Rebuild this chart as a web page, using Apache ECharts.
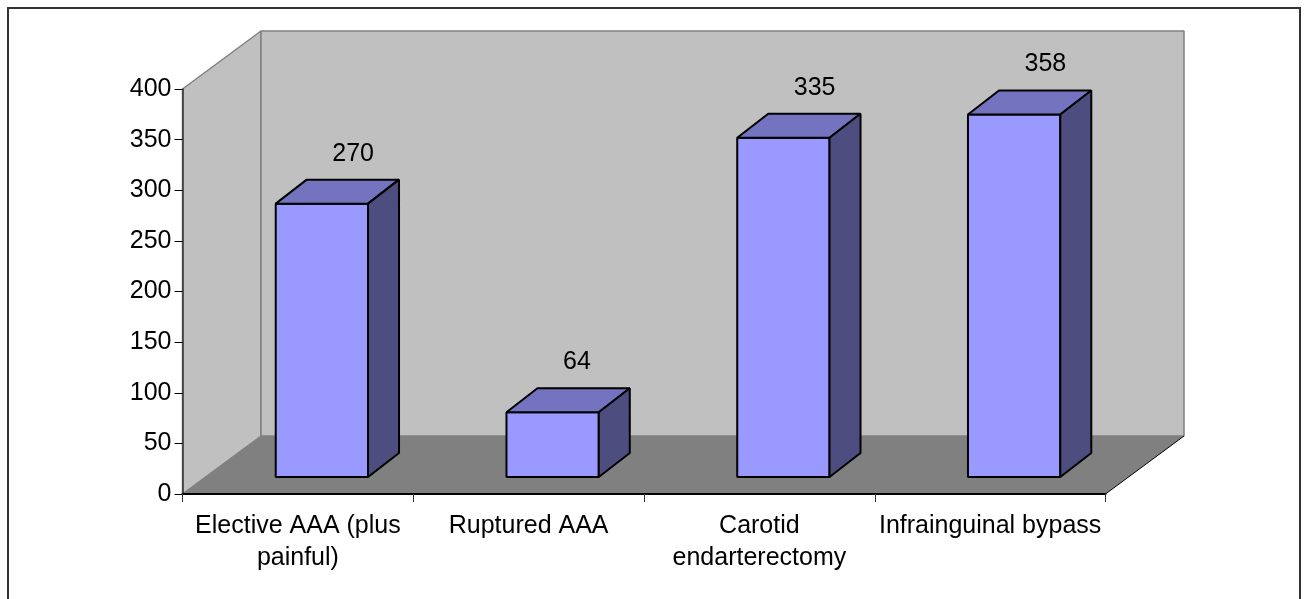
<!DOCTYPE html>
<html>
<head>
<meta charset="utf-8">
<style>
  html, body { margin: 0; padding: 0; background: #fff; }
  #chart { width: 1308px; height: 599px; }
</style>
<script src="https://cdn.jsdelivr.net/npm/echarts@6/dist/echarts.min.js"></script>
</head>
<body>
<div id="chart"></div>
<script>
  const categories = ['Elective AAA (plus\npainful)', 'Ruptured AAA', 'Carotid\nendarterectomy', 'Infrainguinal bypass'];
  const values = [270, 64, 335, 358];
  const yTicks = { min: 0, max: 400, interval: 50 };

  // fake 3d offsets, px
  const wallDx = 78.5;
  const wallDy = 58;
  const barShiftX = 24;
  const barShiftY = 17;
  const barDx = 31;
  const barDy = 24;
  const labelFont = '25px "Liberation Sans", Arial, sans-serif';

  const chart = echarts.init(document.getElementById('chart'));

  function poly(points, fill, stroke, lineWidth) {
    return {
      type: 'polygon',
      shape: { points: points },
      style: { fill: fill, stroke: stroke, lineWidth: lineWidth, lineJoin: 'bevel' },
    };
  }

  function renderWalls(params, api) {
    const c = params.coordSys;
    const l = c.x;
    const r = c.x + c.width;
    const t = c.y;
    const b = c.y + c.height;
    return {
      type: 'group',
      children: [
        poly([[l, b], [l + wallDx, b - wallDy], [l + wallDx, t - wallDy], [l, t]], '#c0c0c0', '#808080', 1.5),
        poly([[l + wallDx, t - wallDy], [r + wallDx, t - wallDy], [r + wallDx, b - wallDy], [l + wallDx, b - wallDy]], '#c0c0c0', '#808080', 1.5),
        poly([[l, b], [r, b], [r + wallDx, b - wallDy], [l + wallDx, b - wallDy]], '#808080', null, 0),
        { type: 'line', shape: { x1: r, y1: b, x2: r + wallDx, y2: b - wallDy }, style: { stroke: '#000', lineWidth: 1 } },
      ],
    };
  }

  function renderBar(params, api) {
    const i = api.value(0);
    const v = api.value(1);
    const top = api.coord([i, v]);
    const base = api.coord([i, 0]);
    const w = api.size([1, 0])[0] * 0.4;
    const x0 = top[0] - w / 2 + barShiftX;
    const x1 = x0 + w;
    const y0 = base[1] - barShiftY;
    const y1 = top[1] - barShiftY;
    return {
      type: 'group',
      children: [
        poly([[x0, y0], [x1, y0], [x1, y1], [x0, y1]], '#9999ff', '#000', 2),
        poly([[x0, y1], [x1, y1], [x1 + barDx, y1 - barDy], [x0 + barDx, y1 - barDy]], '#7373bf', '#000', 2),
        poly([[x1, y0], [x1 + barDx, y0 - barDy], [x1 + barDx, y1 - barDy], [x1, y1]], '#4d4d80', '#000', 2),
        {
          type: 'text',
          style: {
            text: String(v),
            x: x0 + barDx + 25.5,
            y: y1 - barDy - 26,
            font: labelFont,
            fill: '#000',
            align: 'left',
            verticalAlign: 'middle',
          },
        },
      ],
    };
  }

  chart.setOption({
    animation: false,
    backgroundColor: '#fff',
    graphic: [
      {
        type: 'rect',
        silent: true,
        z: -1,
        shape: { x: 8, y: 8, width: 1292, height: 700 },
        style: { fill: 'none', stroke: '#333', lineWidth: 2 },
      },
    ],
    grid: { left: 182.5, top: 89, width: 923, height: 405, containLabel: false },
    xAxis: {
      type: 'category',
      data: categories,
      z: 5,
      axisLine: { lineStyle: { color: '#000', width: 2 } },
      axisTick: { show: true, alignWithLabel: false, length: 8, lineStyle: { color: '#333', width: 1 } },
      axisLabel: {
        interval: 0,
        color: '#000',
        fontFamily: '"Liberation Sans", Arial, sans-serif',
        fontSize: 25,
        lineHeight: 32,
        margin: 16,
      },
      splitLine: { show: false },
    },
    yAxis: {
      type: 'value',
      min: yTicks.min,
      max: yTicks.max,
      interval: yTicks.interval,
      z: 5,
      axisLine: { show: true, lineStyle: { color: '#333', width: 1.5 } },
      axisTick: { show: true, length: 8, lineStyle: { color: '#000', width: 1 } },
      axisLabel: {
        color: '#000',
        fontFamily: '"Liberation Sans", Arial, sans-serif',
        fontSize: 25,
        margin: 11,
        padding: [3, 0, 0, 0],
      },
      splitLine: { show: false },
    },
    series: [
      {
        type: 'custom',
        name: 'walls',
        z: 1,
        silent: true,
        renderItem: renderWalls,
        data: [0],
        encode: { x: -1, y: -1 },
      },
      {
        type: 'custom',
        name: 'cases',
        z: 2,
        renderItem: renderBar,
        data: values.map((v, i) => [i, v]),
        encode: { x: 0, y: 1 },
      },
    ],
  });
</script>
</body>
</html>
